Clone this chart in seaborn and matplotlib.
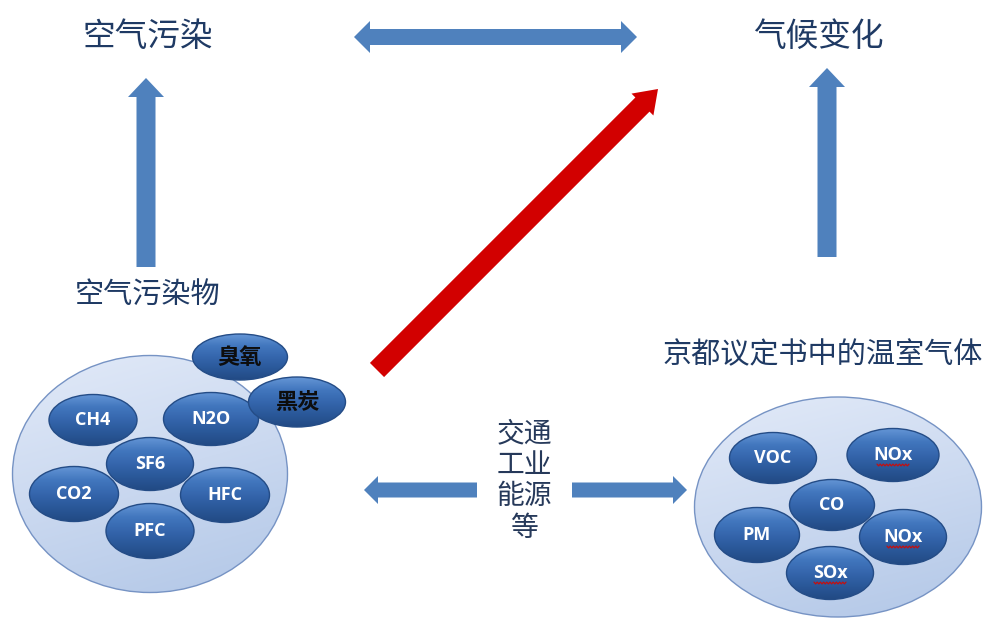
import numpy as np
import matplotlib
matplotlib.use("Agg")
import matplotlib.pyplot as plt
from matplotlib.patches import Ellipse, Polygon
from matplotlib.colors import LinearSegmentedColormap
import seaborn as sns

# ---- content ----------------------------------------------------------
top_left_title = "空气污染"
top_right_title = "气候变化"
left_group_title = "空气污染物"
right_group_title = "京都议定书中的温室气体"
source_lines = ["交通", "工业", "能源", "等"]

left_gases = ["CH4", "N2O", "CO2", "HFC", "SF6", "PFC"]
left_extra = ["臭氧", "黑炭"]
right_gases = ["VOC", "NOx", "PM", "NOx", "CO", "SOx"]
spell_marked = ["NOx", "SOx"]

# ---- layout (pixel space, y grows downward) ---------------------------
left_gas_xy = [(93, 420), (211, 419), (74, 494), (225, 495), (150, 464), (150, 531)]
left_gas_wh = [(88, 51), (95, 53), (89, 55), (89, 55), (87, 53), (88, 55)]
left_extra_xy = [(240, 357), (297, 402)]
left_extra_wh = [(95, 46), (97, 50)]
right_gas_xy = [(773, 458), (893, 455), (757, 535), (903, 537), (832, 505), (830, 573)]
right_gas_wh = [(87, 51), (92, 53), (85, 55), (87, 55), (85, 51), (87, 53)]

BLUE = "#4f81bd"
RED = "#d20000"
NAVY = "#1f3a64"

sns.set_theme(style="white")
plt.rcParams["font.family"] = ["Noto Sans CJK SC", "DejaVu Sans"]

fig = plt.figure(figsize=(9.85, 6.26), dpi=100)
ax = fig.add_axes([0, 0, 1, 1])
ax.set_axis_off()

dark_cmap = LinearSegmentedColormap.from_list(
    "bubble", ["#6596d6", "#4277be", "#3566ad", "#2a5899", "#224a84"])
light_cmap = LinearSegmentedColormap.from_list(
    "disc", ["#e2eaf8", "#cbd9f0", "#b2c7e7"])


def gradient_ellipse(cx, cy, w, h, cmap, edge, z, diagonal=False, lw=1.0):
    patch = Ellipse((cx, cy), w, h, facecolor="none", edgecolor="none", zorder=z)
    ax.add_patch(patch)
    n = 128
    yy, xx = np.mgrid[0:1:n * 1j, 0:1:n * 1j]
    grad = 0.75 * yy + 0.25 * xx if diagonal else yy
    im = ax.imshow(grad, cmap=cmap, extent=(cx - w / 2, cx + w / 2, cy + h / 2, cy - h / 2),
                   origin="upper", aspect="auto", zorder=z, interpolation="bilinear")
    im.set_clip_path(patch)
    ax.add_patch(Ellipse((cx, cy), w, h, facecolor="none", edgecolor=edge,
                         lw=lw, zorder=z + 0.01))


def arrow_polygon(x0, y0, x1, y1, shaft, head_w, head_l, both=False, color=BLUE, z=3):
    d = np.array([x1 - x0, y1 - y0], float)
    L = np.hypot(*d)
    u = d / L
    n = np.array([-u[1], u[0]])
    p0 = np.array([x0, y0], float)
    p1 = np.array([x1, y1], float)
    s, hw = shaft / 2, head_w / 2
    a = p0 + u * head_l if both else p0
    b = p1 - u * head_l
    pts = []
    if both:
        pts += [p0, a + n * hw]
    pts += [a + n * s, b + n * s, b + n * hw, p1, b - n * hw, b - n * s, a - n * s]
    if both:
        pts += [a - n * hw]
    ax.add_patch(Polygon(np.array(pts), closed=True, facecolor=color,
                         edgecolor="none", zorder=z))


def wavy_underline(cx, cy, width):
    xs = np.arange(cx - width / 2, cx + width / 2 + 0.1, 1.6)
    ys = cy + np.where(np.arange(len(xs)) % 2 == 0, -0.9, 0.9)
    ax.plot(xs, ys, color="#c41010", lw=0.9, zorder=20)


# ---- titles -----------------------------------------------------------
ax.text(148, 37, top_left_title, fontsize=23.5, fontweight="medium", color=NAVY,
        ha="center", va="center")
ax.text(818, 37, top_right_title, fontsize=23.5, fontweight="medium", color=NAVY,
        ha="center", va="center")
ax.text(148, 295, left_group_title, fontsize=21, fontweight="medium", color=NAVY,
        ha="center", va="center")
ax.text(823, 355, right_group_title, fontsize=21, fontweight="medium", color=NAVY,
        ha="center", va="center")
for i, line in enumerate(source_lines):
    ax.text(524, 433 + i * 31.5, line, fontsize=20, fontweight="medium", color="#26395a",
            ha="center", va="center")

# ---- arrows -----------------------------------------------------------
arrow_polygon(354, 37, 637, 37, shaft=16, head_w=32, head_l=16, both=True)
arrow_polygon(146, 267, 146, 78, shaft=19, head_w=36, head_l=19)
arrow_polygon(827, 257, 827, 68, shaft=19, head_w=36, head_l=19)
arrow_polygon(477, 490, 364, 490, shaft=15, head_w=28, head_l=14)
arrow_polygon(572, 490, 687, 490, shaft=15, head_w=28, head_l=14)
arrow_polygon(377, 370, 658, 89, shaft=20, head_w=31, head_l=22, color=RED)

# ---- left group ---------------------------------------------------------
gradient_ellipse(150, 474, 275, 237, light_cmap, "#7693c4", z=4, diagonal=True)
for k, (lab, (x, y), (w, h)) in enumerate(zip(left_gases, left_gas_xy, left_gas_wh)):
    gradient_ellipse(x, y, w, h, dark_cmap, "#244c86", z=5 + k * 0.1)
    ax.text(x, y, lab, fontsize=13, fontweight="bold", color="white",
            family=["Open Sans", "DejaVu Sans"], ha="center", va="center", zorder=20)
for k, (lab, (x, y), (w, h)) in enumerate(zip(left_extra, left_extra_xy, left_extra_wh)):
    gradient_ellipse(x, y, w, h, dark_cmap, "#244c86", z=7 + k * 0.1)
    ax.text(x, y, lab, fontsize=16, fontweight="bold", color="#0d0d0d",
            ha="center", va="center", zorder=20)

# ---- right group --------------------------------------------------------
gradient_ellipse(838, 507, 287, 220, light_cmap, "#7693c4", z=4, diagonal=True)
for k, (lab, (x, y), (w, h)) in enumerate(zip(right_gases, right_gas_xy, right_gas_wh)):
    gradient_ellipse(x, y, w, h, dark_cmap, "#244c86", z=5 + k * 0.1)
    ax.text(x, y, lab, fontsize=13, fontweight="bold", color="white",
            family=["Open Sans", "DejaVu Sans"], ha="center", va="center", zorder=20)
    if lab in spell_marked:
        wavy_underline(x, y + 10, 32)

ax.set_xlim(0, 985)
ax.set_ylim(626, 0)
fig.savefig("out.png", dpi=100, facecolor="white")
